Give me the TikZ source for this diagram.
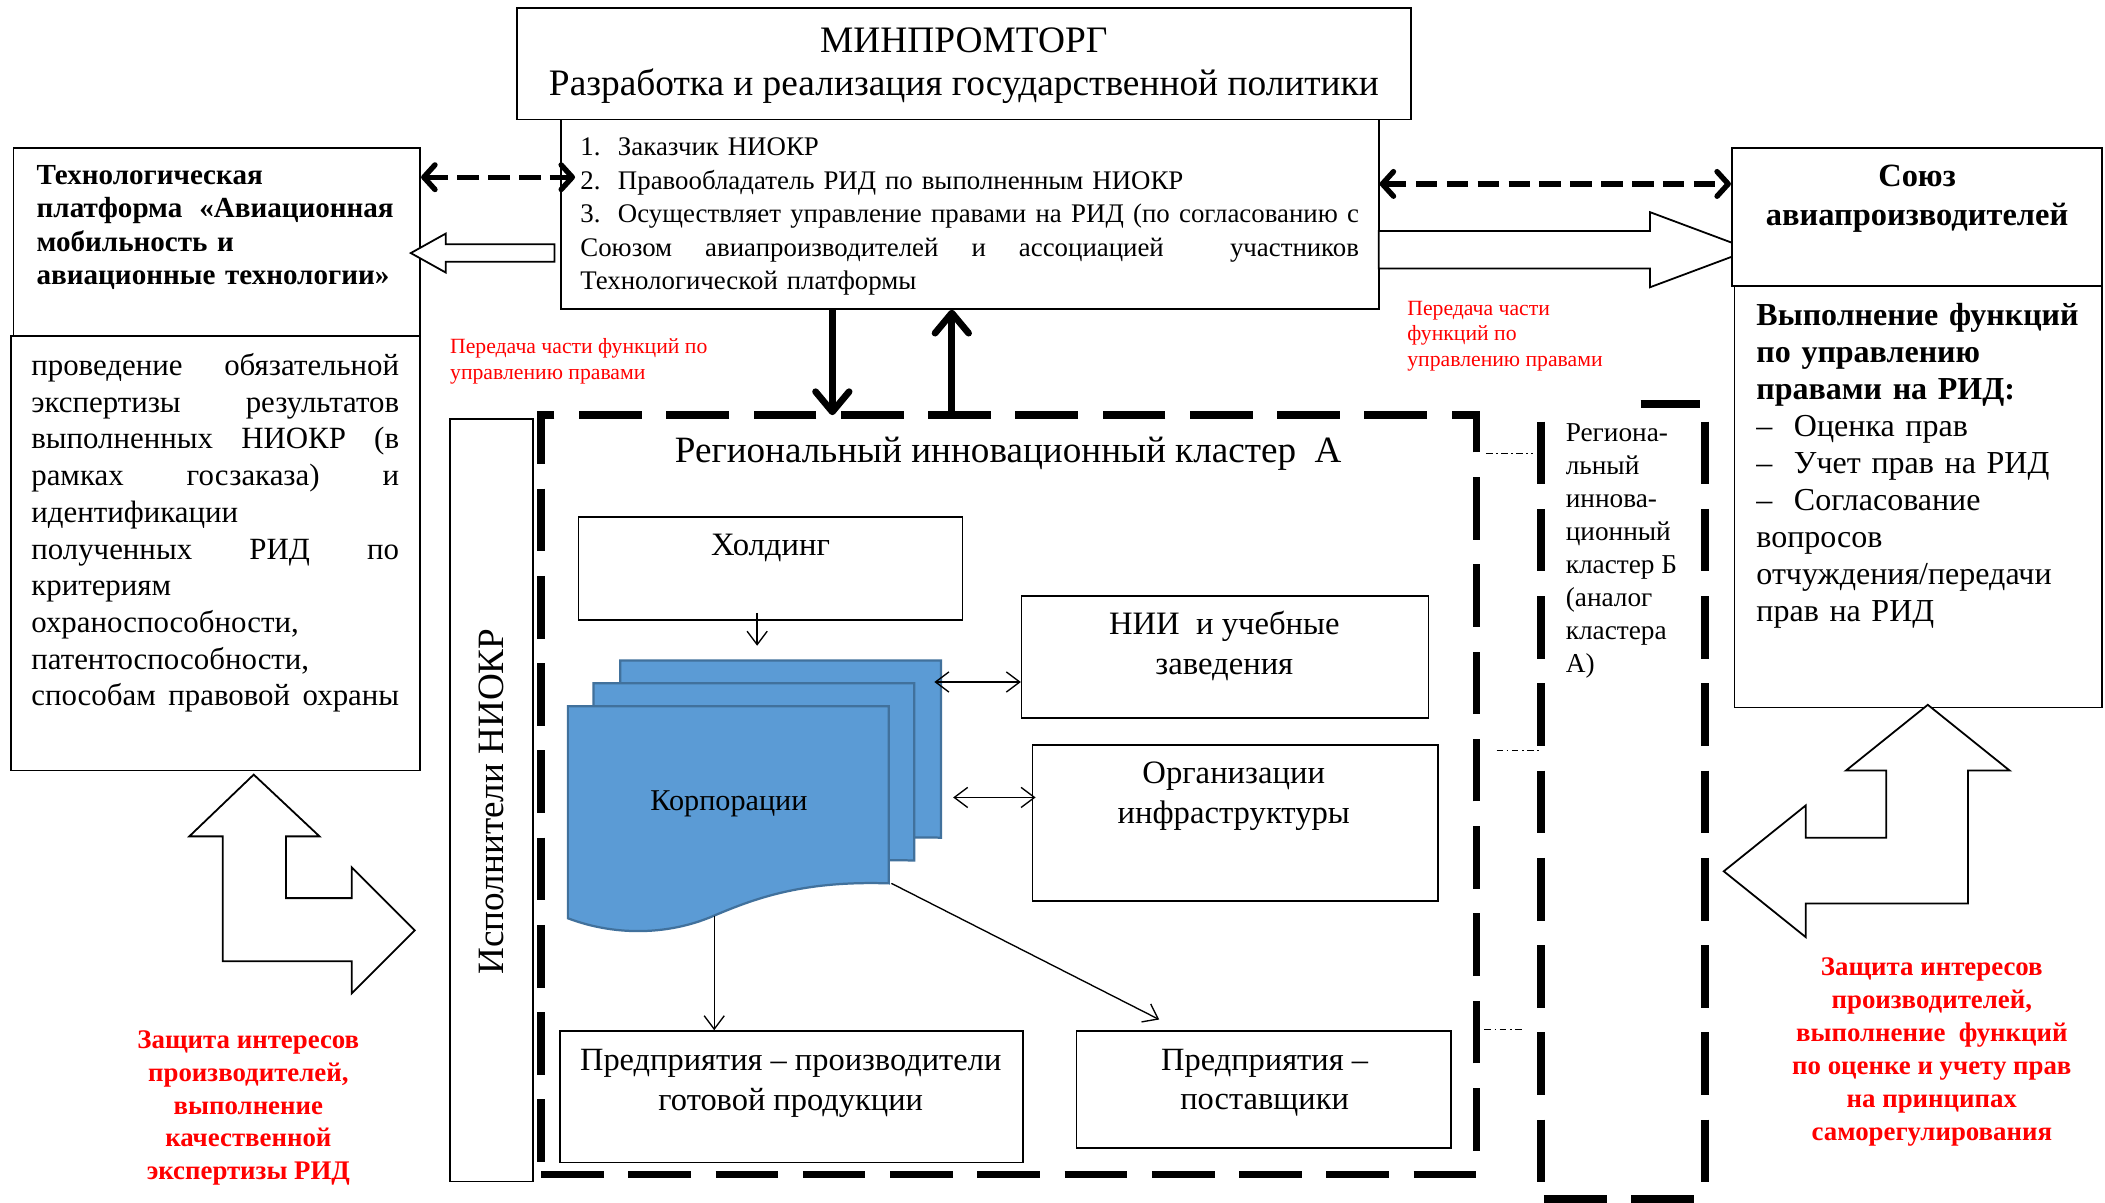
\documentclass[tikz,border=0pt]{standalone}
\usepackage{fontspec}
\setmainfont{Liberation Serif}
\usetikzlibrary{arrows.meta,fit,calc}
\definecolor{docblue}{HTML}{5B9BD5}
\definecolor{docedge}{HTML}{41719C}
\newcommand{\fsz}[2]{\fontsize{#1pt}{#2pt}\selectfont}
\newcommand{\st}{\rule{0pt}{0.8em}}
\newcommand{\jl}[2]{\leavevmode\hbox to #1{#2}}
\newcommand{\tb}[1]{\makebox[16.8pt][l]{#1}}
\begin{document}
\begin{tikzpicture}[x=0.6pt,y=-0.6pt,
  box/.style={draw, line width=0.8pt, inner sep=0pt},
  ibox/.style={draw, line width=0.7pt, inner sep=0pt},
  txt/.style={inner sep=0pt, anchor=north west, align=left},
  ctxt/.style={inner sep=0pt, align=center},
  dashlink/.style={line width=2.4pt, dash pattern=on 9.6pt off 4.2pt,
    {Straight Barb[length=5pt,width=11pt,round]}-{Straight Barb[length=5pt,width=11pt,round]}},
  bigarr/.style={line width=3pt, -{Straight Barb[length=9pt,width=15pt,round]}},
  thinarr/.style={line width=0.6pt, -{Straight Barb[length=6pt,width=9pt]}},
  thinboth/.style={line width=0.6pt, {Straight Barb[length=6pt,width=9pt]}-{Straight Barb[length=6pt,width=9pt]}},
  hollow/.style={draw, line width=0.8pt, fill=white},
  clusterdash/.style={draw, line width=3.3pt, dash pattern=on 28pt off 11pt, inner sep=0pt},
  clline/.style={line width=3.3pt, dash pattern=on 28pt off 11pt},
  dd/.style={line width=0.5pt, dash pattern=on 3pt off 1.5pt on 0.8pt off 1.5pt},
  docfill/.style={fill=docblue, draw=docedge, line width=1pt},
  docpic/.pic={\path[docfill] (0,0) -- (239,0) -- (239,132)
      .. controls (177,130) and (142,142) .. (109,156)
      .. controls (77,170) and (37,172) .. (0,158) -- cycle;}
]
\fill[white] (0,0) rectangle (1568,896);
\useasboundingbox (0,0) rectangle (1568,896);

% ---------- top ----------
\node[box, fit={(385,6) (1051,89)}] (mpt) {};
\node[ctxt, font=\fsz{16.7}{19.2}] (mptt) at (718,49)
  {МИНПРОМТОРГ\\Разработка и реализация государственной политики};
\node[box, fit={(418,89) (1027,230)}] (list) {};
\node[txt, text width=380pt, font=\fsz{12}{15}] (listtxt) at (432,99.5)
  {\st\tb{1.}Заказчик НИОКР\\
   \tb{2.}Правообладатель РИД по выполненным НИОКР\\
   \jl{348pt}{\tb{3.}Осуществляет\hfill управление\hfill правами\hfill на\hfill РИД\hfill (по\hfill согласованию\hfill с}\\
   \jl{348pt}{Союзом\hfill авиапроизводителей\hfill и\hfill ассоциацией\hfill\hfill участников}\\
   Технологической платформы};

% ---------- left boxes ----------
\node[box, fit={(10,110) (313,250)}] (tp) {};
\node[txt, text width=180pt, font=\bfseries\fsz{13}{15}] (tptxt) at (27,119.5)
  {\st Технологическая\\\jl{159.6pt}{платформа\hfill«Авиационная}\\мобильность и\\авиационные технологии»};
\node[box, fit={(8,250) (313,574)}] (exp) {};
\node[txt, text width=190pt, font=\fsz{13.8}{16.4}] (exptxt) at (23,261)
  {\st\jl{164.4pt}{проведение\hfill обязательной}\\
   \jl{164.4pt}{экспертизы\hfill результатов}\\
   \jl{164.4pt}{выполненных\hfill НИОКР\hfill (в}\\
   \jl{164.4pt}{рамках\hfill госзаказа)\hfill и}\\
   идентификации\\
   \jl{164.4pt}{полученных\hfill РИД\hfill по}\\
   критериям\\охраноспособности,\\патентоспособности,\\
   \jl{164.4pt}{способам\hfill правовой\hfill охраны}};

% ---------- right boxes ----------
\draw[hollow] (1027,172) -- (1229,172) -- (1229,158) -- (1304,186) -- (1229,214) -- (1229,200) -- (1027,200) -- cycle;
\node[box, fill=white, fit={(1290,110) (1566,213)}] (sj) {};
\node[ctxt, anchor=north, font=\bfseries\fsz{14.5}{17.4}] (sjtxt) at (1428,119)
  {\st Союз\\авиапроизводителей};
\node[box, fit={(1292,213) (1566,527)}] (fn) {};
\node[txt, text width=150pt, font=\fsz{14.3}{16.5}] (fntxt) at (1308,223.4)
  {\st\textbf{Выполнение функций}\\\textbf{по управлению}\\\textbf{правами на РИД:}\\
   \tb{–}Оценка прав\\\tb{–}Учет прав на РИД\\\tb{–}Согласование\\вопросов\\
   отчуждения/передачи\\прав на РИД};

% ---------- links top ----------
\coordinate (yl) at (0,132);
\coordinate (yr) at (0,137);
\draw[dashlink] (tp.east |- yl) -- ($(list.west |- yl)+(11,0)$);
\draw[dashlink] (list.east |- yr) -- (sj.west |- yr);
\draw[hollow] (306,188.5) -- (332,174) -- (332,182) -- (413,182) -- (413,195) -- (332,195) -- (332,203) -- cycle;

\node[txt, font=\fsz{9.7}{11.4}, text=red] (rl) at (335,250.4)
  {\st Передача части функций по\\управлению правами};
\node[txt, font=\fsz{9.7}{11.4}, text=red] (rr) at (1048,221.4)
  {\st Передача части\\функций по\\управлению правами};

% ---------- cluster A ----------
\node[clusterdash, fit={(403,309) (1100,875)}] (clA) {};
\node[font=\fsz{16.6}{19}, inner sep=0pt] (clAt) at (751,338) {Региональный инновационный кластер\ \ А};
\coordinate (xd) at (620,0);
\coordinate (xu) at (709,0);
\draw[bigarr] (list.south -| xd) -- ($(clA.north -| xd)+(0,3)$);
\draw[bigarr] (clA.north -| xu) -- (list.south -| xu);

% ---------- cluster B ----------
\node[fit={(1148,300) (1270,893)}, inner sep=0pt] (clB) {};
\draw[line width=3.3pt] (1222,301) -- (1266,301);
\draw[clline] (1148,314) -- (1148,900);
\draw[clline] (1270,314) -- (1270,900);
\draw[clline] (1150,893) -- (1262,893);
\node[txt, font=\fsz{12.2}{14.8}] (clBt) at (1166,312)
  {\st Региона-\\льный\\иннова-\\ционный\\кластер Б\\(аналог\\кластера\\А)};
\coordinate (c1) at (0,338);
\coordinate (c2) at (0,559);
\coordinate (c3) at (0,767);
\draw[dd] ($(clA.east |- c1)+(4,0)$) -- ($(clB.west |- c1)+(-6,0)$);
\draw[dd] ($(clA.east |- c2)+(12,0)$) -- ($(clB.west |- c2)+(-1,0)$);
\draw[dd] ($(clA.east |- c3)+(3,0)$) -- ($(clB.west |- c3)+(-12,0)$);

% ---------- executors ----------
\node[ibox, fit={(335,312) (397,880)}] (isp) {};
\node[rotate=90, font=\fsz{16.6}{19}, inner sep=0pt] (ispt) at (366,597) {Исполнители НИОКР};

% ---------- inner boxes ----------
\node[ibox, fit={(431,385) (717,462)}] (hold) {};
\node[font=\fsz{14.6}{17.8}, inner sep=0pt] (holdt) at (574,408) {Холдинг};
\node[ibox, fit={(761,444) (1064,535)}] (nii) {};
\node[ctxt, font=\fsz{14.6}{17.8}] (niit) at (912,481) {НИИ\ \ и учебные\\заведения};
\node[ibox, fit={(769,555) (1071,671)}] (org) {};
\node[ctxt, font=\fsz{14.6}{17.8}] (orgt) at (919,593) {Организации\\инфраструктуры};
\node[ibox, fit={(417,768) (762,866)}] (prod) {};
\node[ctxt, font=\fsz{14.5}{17.8}] (prodt) at (589,807) {Предприятия – производители\\готовой продукции};
\node[ibox, fit={(802,768) (1081,855)}] (sup) {};
\node[ctxt, font=\fsz{14.5}{17.8}] (supt) at (942,806.5) {Предприятия –\\поставщики};

% ---------- corporations ----------
\pic at (462,492) {docpic};
\pic at (442,509) {docpic};
\pic at (423,526) {docpic};
\node[font=\fsz{13.5}{15.5}, inner sep=0pt] (corp) at (543,599) {Корпорации};

\coordinate (xh) at (564,0);
\coordinate (hT) at (564,481);
\coordinate (corpB) at (532,682);
\coordinate (corpC) at (664,658);
\coordinate (corpR1) at (696,508);
\coordinate (corpR2) at (710,594);
\draw[thinarr] ($(hold.south -| xh)+(0,-6)$) -- (hT);
\draw[thinarr] (corpB) -- (prod.north -| corpB);
\draw[thinarr] (corpC) -- ($(sup.north west)+(62,-8)$);
\draw[thinboth] (corpR1) -- (nii.west |- corpR1);
\draw[thinboth] (corpR2) -- ($(org.west |- corpR2)+(3,0)$);

% ---------- bent arrows ----------
\draw[hollow] (189,577) -- (238,623) -- (213,623) -- (213,669) -- (262,669) -- (262,646) -- (309,693)
  -- (262,740) -- (262,716) -- (166,716) -- (166,623) -- (141,623) -- cycle;
\draw[hollow] (1436,525) -- (1497,574) -- (1466,574) -- (1466,673) -- (1345,673) -- (1345,698) -- (1284,649)
  -- (1345,600) -- (1345,624) -- (1405,624) -- (1405,574) -- (1375,574) -- cycle;

\node[ctxt, anchor=north, font=\bfseries\fsz{12}{14.7}, text=red] (rbl) at (185,764.5)
  {\st Защита интересов\\производителей,\\выполнение\\качественной\\экспертизы РИД};
\node[ctxt, anchor=north, font=\bfseries\fsz{12}{14.7}, text=red] (rbr) at (1439,710.5)
  {\st Защита интересов\\производителей,\\выполнение\ \ функций\\по оценке и учету прав\\на принципах\\саморегулирования};
\end{tikzpicture}
\end{document}
